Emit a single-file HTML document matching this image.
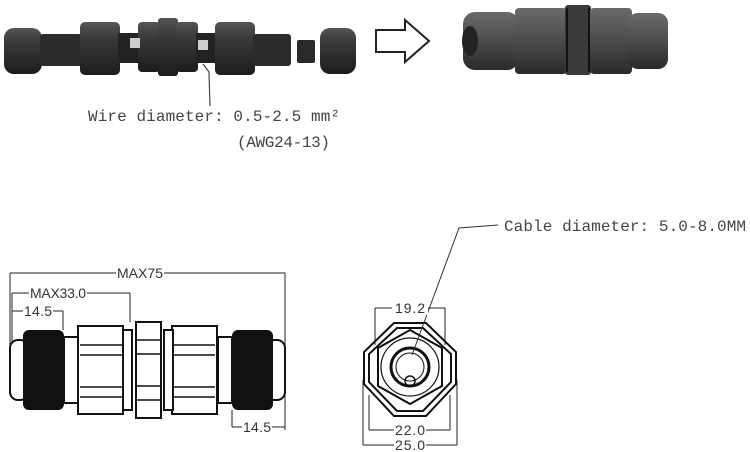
<!DOCTYPE html>
<html><head><meta charset="utf-8"><style>
html,body{margin:0;padding:0;background:#fff;}
svg{display:block}
.t{font-family:"Liberation Mono","Noto Serif CJK SC",monospace;font-size:16px;fill:#444}
.d{font-family:"Liberation Sans",sans-serif;font-size:14px;fill:#333}
</style></head><body>
<svg width="750" height="452" viewBox="0 0 750 452" xmlns="http://www.w3.org/2000/svg">
<defs>
<linearGradient id="g" x1="0" y1="0" x2="0" y2="1">
<stop offset="0" stop-color="#555"/><stop offset="0.3" stop-color="#3a3a3a"/><stop offset="1" stop-color="#1c1c1c"/></linearGradient>
<linearGradient id="g2" x1="0" y1="0" x2="0" y2="1">
<stop offset="0" stop-color="#6a6a6a"/><stop offset="0.35" stop-color="#555"/><stop offset="1" stop-color="#2a2a2a"/></linearGradient>
</defs>
<g fill="url(#g)">
<rect x="4" y="28" width="38" height="46" rx="10"/>
<rect x="40" y="34" width="42" height="32" rx="3" fill="#2b2b2b"/>
<rect x="80" y="22" width="40" height="53" rx="5"/>
<rect x="118" y="33" width="22" height="30" fill="#222"/>
<rect x="138" y="22" width="22" height="50" rx="4"/>
<rect x="158" y="18" width="20" height="58" rx="3"/>
<rect x="176" y="22" width="22" height="50" rx="4"/>
<rect x="196" y="33" width="22" height="30" fill="#222"/>
<rect x="215" y="22" width="40" height="53" rx="5"/>
<rect x="253" y="34" width="38" height="32" rx="3" fill="#2b2b2b"/>
<rect x="297" y="40" width="18" height="23" rx="2" fill="#2a2a2a"/>
<rect x="320" y="28" width="36" height="46" rx="10"/>
</g>
<rect x="130" y="38" width="10" height="10" fill="#ccc"/>
<rect x="198" y="40" width="10" height="10" fill="#ccc"/>
<polyline points="203,64 209,72 210,106" fill="none" stroke="#444" stroke-width="1.2"/>
<text class="t" x="88" y="121" textLength="252">Wire diameter: 0.5-2.5 mm²</text>
<text class="t" x="237" y="147" textLength="93">(AWG24-13)</text>
<polygon points="376,30 405,30 405,20 429,41 405,62 405,52 376,52" fill="#fff" stroke="#222" stroke-width="2"/>
<g fill="url(#g2)">
<rect x="463" y="12" width="56" height="58" rx="12"/>
<rect x="515" y="8" width="52" height="66" rx="4"/>
<rect x="565" y="5" width="26" height="70" rx="3" fill="#3a3a3a"/>
<rect x="590" y="8" width="42" height="66" rx="4"/>
<rect x="628" y="13" width="40" height="56" rx="10"/>
</g>
<ellipse cx="470" cy="41" rx="8" ry="15" fill="#222"/>
<line x1="567" y1="8" x2="567" y2="72" stroke="#111" stroke-width="2"/>
<line x1="589" y1="8" x2="589" y2="72" stroke="#111" stroke-width="2"/>
<g stroke="#222" stroke-width="1" fill="none">
<line x1="10" y1="273" x2="285" y2="273"/><line x1="10" y1="273" x2="10" y2="345"/><line x1="285" y1="273" x2="285" y2="430"/>
<line x1="12" y1="293" x2="130" y2="293"/><line x1="12" y1="293" x2="12" y2="345"/><line x1="130" y1="293" x2="130" y2="322"/>
<line x1="12" y1="311" x2="63" y2="311"/><line x1="63" y1="311" x2="63" y2="330"/>
<line x1="232" y1="427" x2="285" y2="427"/><line x1="232" y1="410" x2="232" y2="427"/>
</g>
<g stroke="#111" stroke-width="2" fill="#fff">
<rect x="10" y="340" width="18" height="60" rx="8"/>
<rect x="267" y="340" width="18" height="60" rx="8"/>
<rect x="64" y="337" width="14" height="66"/>
<rect x="218" y="337" width="14" height="66"/>
<rect x="78" y="326" width="45" height="88"/>
<rect x="123" y="330" width="9" height="80"/>
<rect x="172" y="326" width="45" height="88"/>
<rect x="164" y="330" width="9" height="80"/>
<rect x="136" y="322" width="25" height="96"/>
</g>
<rect x="23" y="330" width="41" height="80" rx="6" fill="#111"/>
<rect x="232" y="330" width="41" height="80" rx="6" fill="#111"/>
<g stroke="#111" stroke-width="1.5">
<line x1="80" y1="345" x2="123" y2="345"/><line x1="80" y1="355" x2="123" y2="355"/>
<line x1="80" y1="387" x2="123" y2="387"/><line x1="80" y1="397" x2="123" y2="397"/>
<line x1="172" y1="345" x2="215" y2="345"/><line x1="172" y1="355" x2="215" y2="355"/>
<line x1="172" y1="387" x2="215" y2="387"/><line x1="172" y1="397" x2="215" y2="397"/>
<line x1="136" y1="340" x2="161" y2="340"/><line x1="136" y1="354" x2="161" y2="354"/>
<line x1="136" y1="386" x2="161" y2="386"/><line x1="136" y1="400" x2="161" y2="400"/>
</g>
<rect x="116" y="265" width="48" height="16" fill="#fff"/><text class="d" x="140" y="278" text-anchor="middle" textLength="46">MAX75</text>
<rect x="29" y="285" width="58" height="16" fill="#fff"/><text class="d" x="58" y="298" text-anchor="middle" textLength="56">MAX33.0</text>
<rect x="23" y="303" width="30" height="16" fill="#fff"/><text class="d" x="38" y="316" text-anchor="middle" textLength="28">14.5</text>
<rect x="242" y="419" width="30" height="16" fill="#fff"/><text class="d" x="257" y="432" text-anchor="middle" textLength="28">14.5</text>
<g stroke="#222" stroke-width="1" fill="none">
<line x1="375" y1="308" x2="445" y2="308"/><line x1="375" y1="308" x2="375" y2="345"/><line x1="445" y1="308" x2="445" y2="345"/>
<line x1="369" y1="430" x2="450" y2="430"/><line x1="369" y1="395" x2="369" y2="430"/><line x1="450" y1="395" x2="450" y2="430"/>
<line x1="363" y1="445" x2="457" y2="445"/><line x1="363" y1="380" x2="363" y2="445"/><line x1="457" y1="380" x2="457" y2="445"/>
</g>
<g stroke="#111" stroke-width="2" fill="none">
<polygon points="394,323 426,323 456,352 456,384 426,416 394,416 364,384 364,352"/>
<polygon points="397,328 423,328 451,354 451,382 423,411 397,411 369,382 369,354"/>
<polygon points="410,330 442,348 442,386 410,404 378,386 378,348"/>
<circle cx="410" cy="367" r="29" stroke-width="1.2"/>
<circle cx="410" cy="367" r="19" stroke-width="3"/>
<circle cx="410" cy="367" r="14" stroke-width="1"/>
<circle cx="410" cy="381" r="5" stroke-width="1.5"/>
</g>
<polyline points="412,355 459,228 498,225" fill="none" stroke="#333" stroke-width="1"/>
<rect x="392" y="301" width="36" height="14" fill="#fff"/><text class="d" x="410" y="313" text-anchor="middle" textLength="30">19.2</text>
<rect x="394" y="423" width="32" height="14" fill="#fff"/><text class="d" x="410" y="435" text-anchor="middle" textLength="30">22.0</text>
<rect x="394" y="438" width="32" height="14" fill="#fff"/><text class="d" x="410" y="450" text-anchor="middle" textLength="30">25.0</text>
<text class="t" x="504" y="231" textLength="242">Cable diameter: 5.0-8.0MM</text>
</svg>
</body></html>
